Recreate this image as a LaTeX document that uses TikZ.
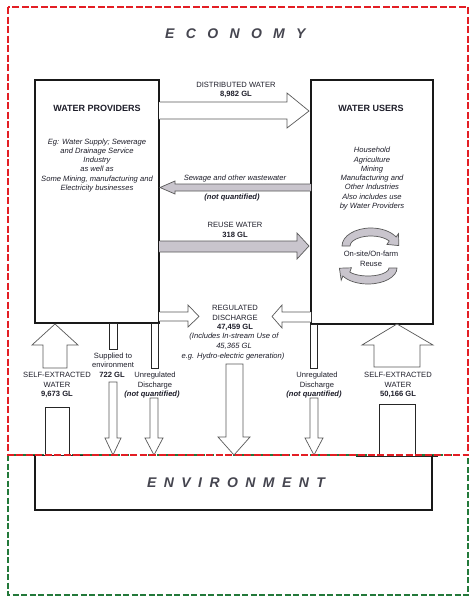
\documentclass[tikz,border=0pt]{standalone}
\usepackage{fontspec}
\setmainfont{Liberation Sans}
\definecolor{txt}{HTML}{1E1E2A}
\definecolor{redd}{HTML}{E31E24}
\definecolor{grn}{HTML}{23793A}
\definecolor{flowgray}{HTML}{C9C5CD}
\definecolor{titlegray}{HTML}{45454F}
\begin{document}
\begin{tikzpicture}[x=1pt,y=-1pt,
  box/.style={draw=black!90, line width=1.3pt},
  flow/.style={draw=black!65, line width=0.7pt, fill=white, line join=miter},
  grayflow/.style={flow, fill=flowgray},
  stub/.style={draw=black!85, line width=0.7pt, fill=white},
  lbl/.style={inner sep=0pt, text=txt, font=\fontsize{7.6}{9.4}\selectfont, align=center, anchor=base},
  lblb/.style={lbl, font=\fontsize{7.6}{9.4}\selectfont\bfseries},
  lbli/.style={lbl, font=\fontsize{7.6}{9.3}\selectfont\itshape},
  lblbi/.style={lbl, font=\fontsize{7.6}{9.4}\selectfont\bfseries\itshape},
  heading/.style={inner sep=0pt, text=txt, font=\fontsize{9}{11}\selectfont\bfseries, anchor=base},
  bigtitle/.style={inner sep=0pt, text=titlegray, anchor=base west}
]
\useasboundingbox (0,0) rectangle (476,600);
\fill[white] (0,0) rectangle (476,600);

% green environment zone
\draw[grn, line width=1.2pt, dash pattern=on 6pt off 2.5pt] (8,455) rectangle (468,595);

% titles
\node[bigtitle, font=\fontsize{14}{16}\selectfont\bfseries\itshape\addfontfeature{LetterSpace=81}] (econ) at (165,38) {ECONOMY};

% main boxes
\draw[box] (35,80) rectangle (159,323);
\draw[box] (311,80) rectangle (433,324);
\node[heading] (wp) at (97,111.3) {WATER PROVIDERS};
% multi-line nodes: base anchor = baseline of the last line
\node[lbli] (wpd) at (97,190.5) {Eg: Water Supply; Sewerage\\and Drainage Service\\Industry\\as well as\\Some Mining, manufacturing and\\Electricity businesses};
\node[heading] (wu) at (371,111.3) {WATER USERS};
\node[lbli] (wud) at (372,208.5) {Household\\Agriculture\\Mining\\Manufacturing and\\Other Industries\\Also includes use\\by Water Providers};

% on-site reuse circular arrows
\filldraw[grayflow] (342,246) arc[start angle=180, end angle=330, x radius=29, y radius=18]
  -- (398.5,233.6) -- (398.8,245.6) -- (386.9,244.4) -- (389.2,241)
  arc[start angle=330, end angle=180, x radius=21, y radius=10] -- cycle;
\filldraw[grayflow] (397,268) arc[start angle=0, end angle=150, x radius=29, y radius=16]
  -- (341.2,280.2) -- (339.4,268.2) -- (351.4,267.8) -- (349.8,272)
  arc[start angle=150, end angle=0, x radius=21, y radius=8] -- cycle;
\node[lbl] (reuse) at (371,266) {On-site/On-farm\\Reuse};

% distributed water
\fill[white] (159,102) -- (287,102) -- (287,93) -- (309,111) -- (287,128) -- (287,119) -- (159,119) -- cycle;
\draw[flow] (159.7,102) -- (287,102) -- (287,93) -- (309,111) -- (287,128) -- (287,119) -- (159.7,119);
\node[lbl] (dw) at (236,87.3) {DISTRIBUTED WATER};
\node[lblb] (dwv) at (236,96.5) {8,982 GL};

% sewage
\fill[flowgray] (311,184) -- (175,184) -- (175,181) -- (160,187.5) -- (175,194) -- (175,191) -- (311,191) -- cycle;
\draw[flow, fill=none] (310.3,184) -- (175,184) -- (175,181) -- (160,187.5) -- (175,194) -- (175,191) -- (310.3,191);
\node[lbli] (sw) at (235,180.5) {Sewage and other wastewater};
\node[lblbi] (swv) at (232,199) {(not quantified)};

% reuse water
\fill[flowgray] (159,241) -- (297,241) -- (297,233) -- (309,246) -- (297,259) -- (297,252) -- (159,252) -- cycle;
\draw[flow, fill=none] (159.7,241) -- (297,241) -- (297,233) -- (309,246) -- (297,259) -- (297,252) -- (159.7,252);
\node[lbl] (rw) at (235,227.7) {REUSE WATER};
\node[lblb] (rwv) at (235,237.3) {318 GL};

% regulated discharge horizontal arrows
\fill[white] (159,312) -- (188,312) -- (188,305) -- (199,316.5) -- (188,327) -- (188,321) -- (159,321) -- cycle;
\draw[flow] (159.7,312) -- (188,312) -- (188,305) -- (199,316.5) -- (188,327) -- (188,321) -- (159.7,321);
\fill[white] (311,312) -- (282,312) -- (282,305) -- (272,316.5) -- (282,328) -- (282,322) -- (311,322) -- cycle;
\draw[flow] (310.3,312) -- (282,312) -- (282,305) -- (272,316.5) -- (282,328) -- (282,322) -- (310.3,322);
\node[lbl] (rd1) at (235,310.7) {REGULATED};
\node[lbl] (rd2) at (235,320) {DISCHARGE};
\node[lblb] (rd3) at (235,329.3) {47,459 GL};
\node[lbli] (rd4) at (234,338.5) {(Includes In-stream Use of};
\node[lbli] (rd5) at (234,348.5) {45,365 GL};
\node[lbli] (rd6) at (233,358.5) {e.g. Hydro-electric generation)};

% big down arrow
\filldraw[flow] (226,364) -- (226,437) -- (218,437) -- (234,455) -- (250,437) -- (243,437) -- (243,364) -- cycle;

% stubs below boxes
\filldraw[stub] (109,323) rectangle (117,349);
\filldraw[stub] (151,323) rectangle (158,368);
\filldraw[stub] (310,324) rectangle (317,368);

% down arrows to environment
\filldraw[flow] (109,382) -- (109,438) -- (105,438) -- (113,455) -- (121,438) -- (117,438) -- (117,382) -- cycle;
\filldraw[flow] (150,398) -- (150,438) -- (145,438) -- (154,455) -- (163,438) -- (158,438) -- (158,398) -- cycle;
\filldraw[flow] (310,398) -- (310,438) -- (305,438) -- (314,455) -- (323,438) -- (318,438) -- (318,398) -- cycle;

% up arrows (self-extracted)
\filldraw[flow] (43,368) -- (43,345) -- (32,345) -- (55,324) -- (78,345) -- (67,345) -- (67,368) -- cycle;
\filldraw[flow] (374,367) -- (374,345) -- (362,345) -- (397,324) -- (433,345) -- (420,345) -- (420,367) -- cycle;

% labels bottom
\node[lbl] (sup1) at (113,358) {Supplied to};
\node[lbl] (sup2) at (113,367.5) {environment};
\node[lblb] (sup3) at (112,377.2) {722 GL};
\node[lbl] (se1) at (57,377.5) {SELF-EXTRACTED};
\node[lbl] (se2) at (57,387) {WATER};
\node[lblb] (se3) at (57,396.6) {9,673 GL};
\node[lbl] (ul1) at (155,377.5) {Unregulated};
\node[lbl] (ul2) at (155,387) {Discharge};
\node[lblbi] (ul3) at (152,396.6) {(not quantified)};
\node[lbl] (ur1) at (317,377.5) {Unregulated};
\node[lbl] (ur2) at (317,387) {Discharge};
\node[lblbi] (ur3) at (314,396.6) {(not quantified)};
\node[lbl] (sr1) at (398,377.5) {SELF-EXTRACTED};
\node[lbl] (sr2) at (398,387) {WATER};
\node[lblb] (sr3) at (398,396.6) {50,166 GL};

% ground boxes (sources)
\draw[stub] (45,455) -- (45,407) -- (69,407) -- (69,455);
\draw[stub] (379,456) -- (379,404) -- (415,404) -- (415,456);
\draw[black!85, line width=0.7pt] (28,455) -- (85,455);
\draw[black!85, line width=0.7pt] (356,456) -- (438,456);

% environment box
\draw[box] (35,455) -- (35,510) -- (432,510) -- (432,455);
\node[bigtitle, font=\fontsize{14}{16}\selectfont\bfseries\itshape\addfontfeature{LetterSpace=53}] (env) at (147,487.3) {ENVIRONMENT};

% red economy zone
\draw[redd, line width=1.4pt, dash pattern=on 7pt off 2.5pt] (8,7) rectangle (468,455);
\end{tikzpicture}
\end{document}
